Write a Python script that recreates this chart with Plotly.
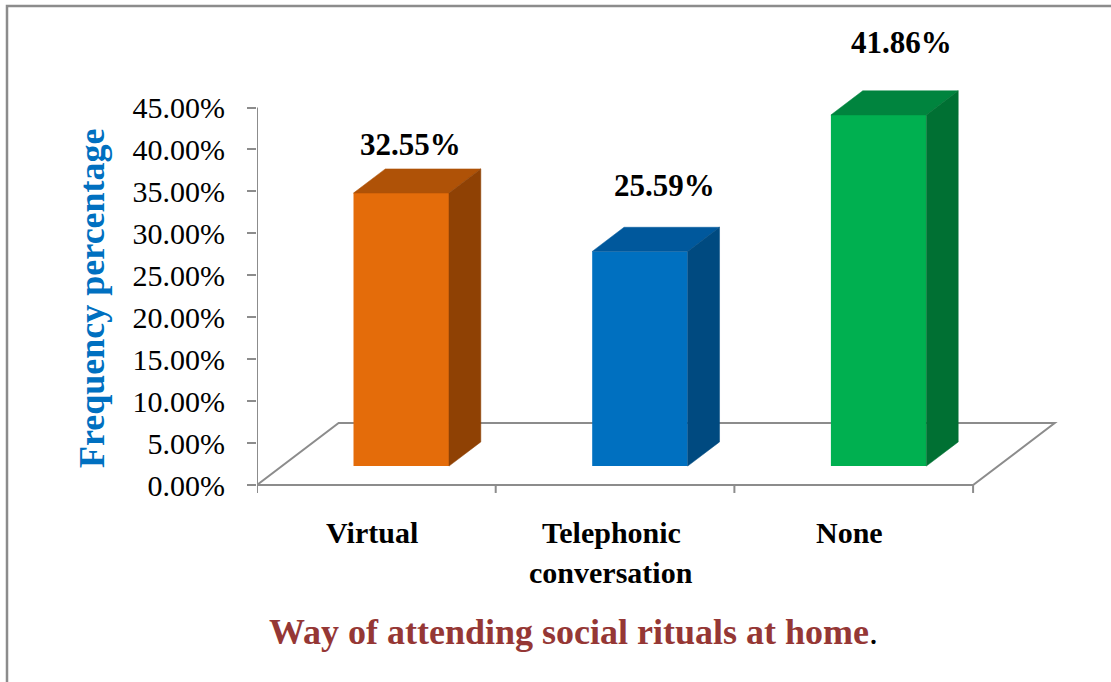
import plotly.graph_objects as go

# ---------------- data ----------------
categories = ["Virtual", "Telephonic<br>conversation", "None"]
values = [32.55, 25.59, 41.86]
value_labels = ["32.55%", "25.59%", "41.86%"]
y_tick_values = [0, 5, 10, 15, 20, 25, 30, 35, 40, 45]
y_tick_labels = ["0.00%", "5.00%", "10.00%", "15.00%", "20.00%",
                 "25.00%", "30.00%", "35.00%", "40.00%", "45.00%"]
y_title = "Frequency percentage"
x_title = "Way of attending social rituals at home"

# ---------------- styles ----------------
front_colors = ["#E46C0A", "#0070C0", "#00B050"]
top_colors = ["#AF5207", "#00589C", "#00843E"]
side_colors = ["#8F4104", "#004A80", "#007033"]
label_shift_x = [-7, 9, 7]      # px nudges of value labels
label_gap_px = [24, 42, 48]     # px above bar back-top
CAT_FIRST_LINE_PX = 47          # px below floor front edge
CAT_LINE_STEP_PX = 40
CAT_SHIFT_X = -4
GRAY = "#8C8C8C"
FONT = "Liberation Serif, Times New Roman, serif"

W, H = 1111, 682
PL, PR, PT, PB = 257, 1070, 15, 500          # plot area in px
X_RANGE = [-0.5, 2.906]
Y_RANGE = [-1.788, 56.03]

BW = 0.40        # bar width (category units)
DX, DY = 0.342, 7.39   # floor depth offset (x units, y units)
D0, D1 = 0.305, 0.695  # bar depth start / end fraction
TICK_Y = 0.95          # x tick length in y units


def px2paper_x(px):
    return (px - PL) / (PR - PL)


def px2paper_y(py):
    return (PB - py) / (PB - PT)


fig = go.Figure()

n = len(values)
xmin_cat, xmax_cat = -0.5, n - 0.5

# floor (parallelogram) as below-layer shape
floor_path = (f"M {xmin_cat},0 L {xmax_cat},0 L {xmax_cat + DX},{DY} "
              f"L {xmin_cat + DX},{DY} Z")
shapes = [dict(type="path", path=floor_path, xref="x", yref="y",
               line=dict(color=GRAY, width=2), layer="below")]
# y axis line from 0 to max tick
shapes.append(dict(type="line", xref="x", yref="y", x0=xmin_cat, x1=xmin_cat,
                   y0=0, y1=y_tick_values[-1], line=dict(color=GRAY, width=2),
                   layer="below"))
# x ticks at category boundaries
for k in range(n + 1):
    xb = xmin_cat + k
    shapes.append(dict(type="line", xref="x", yref="y", x0=xb, x1=xb,
                       y0=0, y1=-TICK_Y, line=dict(color=GRAY, width=2),
                       layer="below"))
# outer frame
shapes.append(dict(type="rect", xref="paper", yref="paper",
                   x0=px2paper_x(7), x1=px2paper_x(W + 20),
                   y0=px2paper_y(H + 20), y1=px2paper_y(6),
                   line=dict(color=GRAY, width=2.5), layer="below"))

ddx = (D1 - D0) * DX
ddy = (D1 - D0) * DY

# front faces as bars
fig.add_trace(go.Bar(
    x=[i + D0 * DX for i in range(n)],
    y=values,
    base=[D0 * DY] * n,
    width=BW,
    marker=dict(color=front_colors, line=dict(width=0)),
    hoverinfo="skip",
    showlegend=False,
))

# top and side faces
for i, v in enumerate(values):
    x0 = i - BW / 2 + D0 * DX
    x1 = i + BW / 2 + D0 * DX
    yb = D0 * DY
    yt = yb + v
    fig.add_trace(go.Scatter(
        x=[x0, x0 + ddx, x1 + ddx, x1, x0],
        y=[yt, yt + ddy, yt + ddy, yt, yt],
        fill="toself", fillcolor=top_colors[i], mode="lines",
        line=dict(color=top_colors[i], width=0.5),
        hoverinfo="skip", showlegend=False))
    fig.add_trace(go.Scatter(
        x=[x1, x1, x1 + ddx, x1 + ddx, x1],
        y=[yb, yt, yt + ddy, yb + ddy, yb],
        fill="toself", fillcolor=side_colors[i], mode="lines",
        line=dict(color=side_colors[i], width=0.5),
        hoverinfo="skip", showlegend=False))

annotations = []
for i, v in enumerate(values):
    annotations.append(dict(
        x=i + 0.5 * DX, y=v + D1 * DY, xref="x", yref="y",
        text=f"<b>{value_labels[i]}</b>", showarrow=False,
        xanchor="center", yanchor="middle",
        xshift=label_shift_x[i], yshift=label_gap_px[i],
        font=dict(family=FONT, size=31, color="black")))

# category labels (one annotation per text line)
for i, cat in enumerate(categories):
    for k, line in enumerate(cat.split("<br>")):
        annotations.append(dict(
            x=i, y=0, xref="x", yref="y",
            text=f"<b>{line}</b>", showarrow=False,
            xanchor="center", yanchor="middle",
            xshift=CAT_SHIFT_X,
            yshift=-(CAT_FIRST_LINE_PX + k * CAT_LINE_STEP_PX),
            font=dict(family=FONT, size=30, color="black")))

# y axis title
annotations.append(dict(
    x=px2paper_x(92), y=px2paper_y(298), xref="paper", yref="paper",
    text=f"<b>{y_title}</b>", textangle=-90, showarrow=False,
    xanchor="center", yanchor="middle",
    font=dict(family=FONT, size=36, color="#0070C0")))

# x axis title
annotations.append(dict(
    x=px2paper_x(573), y=px2paper_y(632), xref="paper", yref="paper",
    text=f"<b>{x_title}</b><span style='color:black'>.</span>",
    showarrow=False, xanchor="center", yanchor="middle",
    font=dict(family=FONT, size=36, color="#953735")))

fig.update_layout(
    width=W, height=H,
    margin=dict(l=PL, r=W - PR, t=PT, b=H - PB, pad=0),
    paper_bgcolor="white", plot_bgcolor="white",
    shapes=shapes, annotations=annotations,
    showlegend=False,
    xaxis=dict(range=X_RANGE, showgrid=False, zeroline=False, showline=False,
               showticklabels=False, ticks="", fixedrange=True),
    yaxis=dict(range=Y_RANGE, showgrid=False, zeroline=False, showline=False,
               tickvals=y_tick_values, ticktext=y_tick_labels,
               ticks="outside", ticklen=9, tickwidth=2, tickcolor=GRAY,
               ticklabelstandoff=16,
               tickfont=dict(family=FONT, size=30, color="black"),
               fixedrange=True),
)

fig.write_html("out.html")
